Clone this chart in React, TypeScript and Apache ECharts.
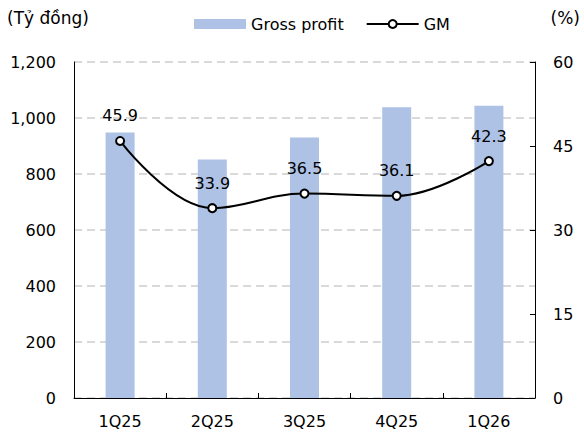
import React, { useEffect, useRef } from "react";
import * as echarts from "echarts";

const categories = ["1Q25", "2Q25", "3Q25", "4Q25", "1Q26"];
const grossProfit = [948, 852, 930, 1038, 1044];
const gm = [45.9, 33.9, 36.5, 36.1, 42.3];
const leftTicks = { min: 0, max: 1200, interval: 200 };
const rightTicks = { min: 0, max: 60, interval: 15 };

const FONT = "DejaVu Sans";

export default function App() {
  const ref = useRef<HTMLDivElement>(null);
  useEffect(() => {
    if (!ref.current) return;
    const chart = echarts.init(ref.current, undefined, { renderer: "svg" });
    chart.setOption({
      animation: false,
      textStyle: { fontFamily: FONT },
      grid: { left: 74, right: 49, top: 62, bottom: 34 },
      graphic: [
        { type: "text", left: 7, top: 9, style: { text: "(Tỷ đồng)", fontSize: 17, fontFamily: FONT, fill: "#000" } },
        { type: "text", right: 4, top: 9, style: { text: "(%)", fontSize: 17, fontFamily: FONT, fill: "#000" } },
      ],
      legend: {
        top: 11,
        left: 189,
        itemGap: 22,
        itemWidth: 52,
        itemHeight: 10,
        textStyle: { fontSize: 16, fontFamily: FONT, color: "#000" },
        data: [
          { name: "Gross profit", icon: "rect" },
          { name: "GM" },
        ],
      },
      xAxis: {
        type: "category",
        data: categories,
        axisLine: { lineStyle: { color: "#000" } },
        axisTick: { show: true, inside: true, length: 5, lineStyle: { color: "#000" } },
        axisLabel: { fontSize: 16, color: "#000", fontFamily: FONT, margin: 15 },
      },
      yAxis: [
        {
          type: "value",
          ...leftTicks,
          axisLine: { show: true, lineStyle: { color: "#000" } },
          axisTick: { show: false },
          axisLabel: {
            fontSize: 16,
            color: "#000",
            fontFamily: FONT,
            margin: 18,
            formatter: (v: number) => v.toLocaleString("en-US"),
          },
          splitLine: { lineStyle: { color: "#d9d9d9", type: [8, 5], width: 2 } },
        },
        {
          type: "value",
          ...rightTicks,
          position: "right",
          axisLine: { show: true, lineStyle: { color: "#000" } },
          axisTick: { show: true, inside: true, length: 5, lineStyle: { color: "#000" } },
          axisLabel: { fontSize: 16, color: "#000", fontFamily: FONT, margin: 18 },
          splitLine: { show: false },
        },
      ],
      series: [
        {
          name: "Gross profit",
          type: "bar",
          data: grossProfit,
          barWidth: 29,
          itemStyle: { color: "#adc2e5" },
        },
        {
          name: "GM",
          type: "line",
          yAxisIndex: 1,
          data: gm,
          smooth: 0.4,
          symbol: "circle",
          symbolSize: 8,
          lineStyle: { color: "#000", width: 2 },
          itemStyle: { color: "#fff", borderColor: "#000", borderWidth: 2 },
          label: {
            show: true,
            position: "top",
            distance: 12,
            fontSize: 16,
            color: "#000",
            fontFamily: FONT,
            formatter: (p: any) => p.value.toFixed(1),
          },
        },
      ],
    });
    return () => chart.dispose();
  }, []);
  return <div ref={ref} style={{ width: 584, height: 432, position: "absolute", left: 0, top: 0 }} />;
}
